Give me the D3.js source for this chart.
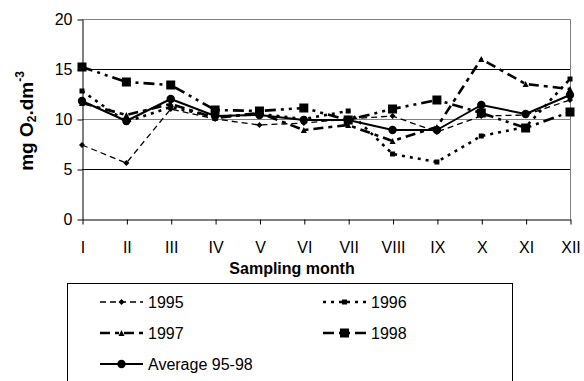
<!DOCTYPE html>
<html>
<head>
<meta charset="utf-8">
<script src="https://cdn.jsdelivr.net/npm/d3@7"></script>
<style>
  html, body { margin: 0; padding: 0; background: #fff; }
  svg { display: block; font-family: "Liberation Sans", Arial, sans-serif; }
</style>
</head>
<body>
<svg id="chart" width="584" height="381"></svg>
<script>
// Monthly dissolved oxygen, mg O2 per dm3
const months = ["I","II","III","IV","V","VI","VII","VIII","IX","X","XI","XII"];
const y1995 = [7.4, 5.6, 11.0, 10.0, 9.4, 9.6, 10.0, 10.3, 8.7, 10.3, 10.4, 11.9];
const y1996 = [12.8, 9.7, 11.2, 10.2, 10.5, 10.0, 10.8, 6.5, 5.7, 8.3, 9.2, 14.0];
const y1997 = [11.6, 10.4, 11.5, 10.1, 10.6, 8.9, 9.4, 7.8, 9.2, 16.0, 13.5, 13.0];
const y1998 = [15.2, 13.7, 13.4, 10.9, 10.8, 11.1, 9.9, 11.0, 11.9, 10.6, 9.1, 10.7];
const yAvg  = [11.8, 9.8, 12.0, 10.3, 10.4, 9.9, 9.9, 8.9, 8.9, 11.4, 10.5, 12.4];
const yTicks = [0, 5, 10, 15, 20];

const series = [
  { name: "1995", values: y1995, dash: "6,4", width: 1.3, marker: "diamond", size: 3 },
  { name: "1996", values: y1996, dash: "3,5", width: 2.6, marker: "square", size: 5 },
  { name: "1997", values: y1997, dash: "10,5,4,5", width: 2.6, marker: "triangle", size: 6 },
  { name: "1998", values: y1998, dash: "11,5,3,5,3,5", width: 2.6, marker: "square", size: 9 },
  { name: "Average 95-98", values: yAvg, dash: null, width: 2, marker: "circle", size: 4.2 }
];

const svg = d3.select("#chart");
const plotL = 82, plotR = 570, plotT = 19, plotB = 219;

const x = d3.scalePoint().domain(months).range([plotL, plotR]).padding(0);
const y = d3.scaleLinear().domain([0, 20]).range([plotB, plotT]);

// gridlines
svg.append("g").selectAll("line").data([5, 10, 15]).join("line")
  .attr("x1", plotL).attr("x2", plotR)
  .attr("y1", d => y(d) + 0.5).attr("y2", d => y(d) + 0.5)
  .attr("stroke", d => d === 10 ? "#808080" : "#000").attr("stroke-width", 1);

// frame top and right
svg.append("path")
  .attr("d", `M${plotL},${plotT + 0.5}H${plotR + 0.5}V${plotB}`)
  .attr("fill", "none").attr("stroke", "#808080").attr("stroke-width", 1);

// axes
const yAxis = svg.append("g").attr("transform", `translate(${plotL + 0.5},0.5)`)
  .call(d3.axisLeft(y).tickValues(yTicks).tickSize(5).tickSizeOuter(0).tickPadding(5));
const xAxis = svg.append("g").attr("transform", `translate(0.5,${plotB + 0.5})`)
  .call(d3.axisBottom(x).tickSize(5).tickSizeOuter(0).tickPadding(17));
[yAxis, xAxis].forEach(g => {
  g.select(".domain").attr("stroke", "#000");
  g.selectAll(".tick line").attr("stroke", "#000");
  g.selectAll("text").attr("font-size", 16).attr("fill", "#000")
    .attr("font-family", "'Liberation Sans', Arial, sans-serif");
});

// markers
function drawMarker(g, type, s) {
  if (type === "circle") {
    g.append("circle").attr("r", s).attr("fill", "#000");
  } else if (type === "square") {
    g.append("rect").attr("x", -s / 2).attr("y", -s / 2).attr("width", s).attr("height", s).attr("fill", "#000");
  } else if (type === "triangle") {
    g.append("path").attr("d", `M0,${-s / 2}L${s / 2},${s / 2}L${-s / 2},${s / 2}Z`).attr("fill", "#000");
  } else if (type === "diamond") {
    g.append("path").attr("d", `M0,${-s}L${s},0L0,${s}L${-s},0Z`).attr("fill", "#000");
  }
}

const line = d3.line().x((d, i) => x(months[i])).y(d => y(d));

series.forEach(s => {
  const g = svg.append("g");
  g.append("path").datum(s.values)
    .attr("d", line).attr("fill", "none").attr("stroke", "#000")
    .attr("stroke-width", s.width)
    .attr("stroke-dasharray", s.dash)
    .attr("stroke-linejoin", "round");
  s.values.forEach((v, i) => {
    const m = g.append("g").attr("transform", `translate(${x(months[i])},${y(v)})`);
    drawMarker(m, s.marker, s.size);
  });
});

// axis titles
svg.append("text")
  .attr("x", 292).attr("y", 274)
  .attr("text-anchor", "middle").attr("font-size", 16).attr("font-weight", "bold")
  .text("Sampling month");

const yt = svg.append("text")
  .attr("transform", "translate(33,121) rotate(-90)")
  .attr("text-anchor", "middle").attr("font-size", 19).attr("font-weight", "bold");
yt.append("tspan").text("mg O");
yt.append("tspan").attr("font-size", 12).attr("dy", 3).text("2");
yt.append("tspan").attr("dy", -3).text(".dm");
yt.append("tspan").attr("font-size", 12).attr("dy", -9).text("-3");

// legend
svg.append("rect")
  .attr("x", 67.5).attr("y", 283.5).attr("width", 445).attr("height", 120)
  .attr("fill", "#fff").attr("stroke", "#000").attr("stroke-width", 1);

const legendPos = [
  { cx: 100, cy: 302 }, { cx: 323, cy: 302 },
  { cx: 100, cy: 333 }, { cx: 323, cy: 333 },
  { cx: 100, cy: 364 }
];
series.forEach((s, i) => {
  const p = legendPos[i];
  const g = svg.append("g").attr("transform", `translate(${p.cx},${p.cy})`);
  g.append("line").attr("x1", 0).attr("x2", 43).attr("y1", 0).attr("y2", 0)
    .attr("stroke", "#000").attr("stroke-width", s.width)
    .attr("stroke-dasharray", s.dash);
  const m = g.append("g").attr("transform", "translate(21.5,0)");
  drawMarker(m, s.marker, s.size);
  g.append("text").attr("x", 48).attr("y", 0).attr("dy", "0.35em")
    .attr("font-size", 16).text(s.name);
});
</script>
</body>
</html>
